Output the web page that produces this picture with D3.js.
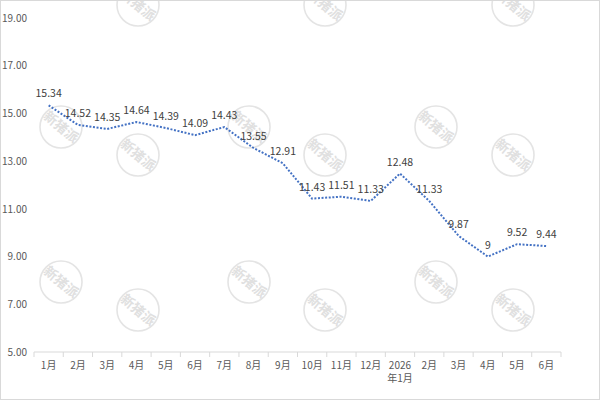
<!DOCTYPE html>
<html><head><meta charset="utf-8">
<script src="https://cdn.jsdelivr.net/npm/d3@7"></script>
<style>body{margin:0;background:#fff}svg{display:block}</style>
</head><body>
<script>
const categories = ["1月","2月","3月","4月","5月","6月","7月","8月","9月","10月","11月","12月","2026\n年1月","2月","3月","4月","5月","6月"];
const values = [15.34,14.52,14.35,14.64,14.39,14.09,14.43,13.55,12.91,11.43,11.51,11.33,12.48,11.33,9.87,9,9.52,9.44];
const labels = ["15.34","14.52","14.35","14.64","14.39","14.09","14.43","13.55","12.91","11.43","11.51","11.33","12.48","11.33","9.87","9","9.52","9.44"];
const yTicks = [5,7,9,11,13,15,17,19];
const watermarks = [[138,5],[325,5],[513,5],[61,127],[249,127],[436,127],[138,155],[325,155],[513,155],[61,282],[249,282],[436,282],[138,310],[325,310],[513,310]];

const W=600,H=400;
const svg=d3.select("body").append("svg").attr("width",W).attr("height",H);
const font="'Noto Sans CJK SC','Noto Sans',sans-serif";

// watermarks
const wm=svg.append("g");
watermarks.forEach(([cx,cy])=>{
  const g=wm.append("g").attr("transform",`translate(${cx},${cy})`);
  g.append("circle").attr("r",21).attr("fill","none").attr("stroke","#e4e4e4").attr("stroke-width",1.6);
  g.append("text").attr("transform","rotate(40)").attr("text-anchor","middle").attr("dy","0.35em")
   .attr("font-family",font).attr("font-size",13.5).attr("font-weight","bold").attr("fill","#e0e0e0").text("新猪派");
});

// border
svg.append("rect").attr("x",0.5).attr("y",0.5).attr("width",W-1).attr("height",H-1).attr("fill","none").attr("stroke","#d9d9d9");

const x=d3.scaleBand().domain(d3.range(categories.length)).range([34,561]);
const y=d3.scaleLinear().domain([5,19]).range([352,18]);

// y axis labels
const ya=svg.append("g").attr("transform","translate(27,0)")
  .call(d3.axisLeft(y).tickValues(yTicks).tickFormat(d3.format(".2f")).tickSize(0).tickPadding(0));
ya.select(".domain").remove();
ya.selectAll("text").attr("font-family",font).attr("font-size",10).attr("fill","#595959");

// x axis
const xa=svg.append("g").attr("transform","translate(0,352)");
xa.append("line").attr("x1",34).attr("x2",561).attr("stroke","#d9d9d9");
const bounds=d3.range(categories.length+1).map(i=>i<categories.length?x(i):x(categories.length-1)+x.bandwidth());
xa.selectAll("line.t").data(bounds).join("line").attr("class","t")
  .attr("x1",d=>d).attr("x2",d=>d).attr("y1",0).attr("y2",5).attr("stroke","#d9d9d9");
const xLines=[];
categories.forEach((c,i)=>c.split("\n").forEach((p,j)=>xLines.push({i,j,p})));
xa.selectAll("text").data(xLines).join("text")
  .attr("x",d=>x(d.i)+x.bandwidth()/2).attr("y",d=>17+d.j*13)
  .attr("text-anchor","middle").attr("font-family",font).attr("font-size",10).attr("fill","#595959")
  .text(d=>d.p);

// line
const line=d3.line().x((d,i)=>x(i)+x.bandwidth()/2).y(d=>y(d));
svg.append("path").datum(values).attr("d",line).attr("fill","none")
  .attr("stroke","#4472C4").attr("stroke-width",2).attr("stroke-dasharray","2,1.6");

// data labels
svg.append("g").selectAll("text").data(values).join("text")
  .attr("x",(d,i)=>x(i)+x.bandwidth()/2).attr("y",d=>y(d)-8)
  .attr("text-anchor","middle").attr("font-family",font).attr("font-size",10.5).attr("fill","#404040")
  .text((d,i)=>labels[i]);
</script>
</body></html>
